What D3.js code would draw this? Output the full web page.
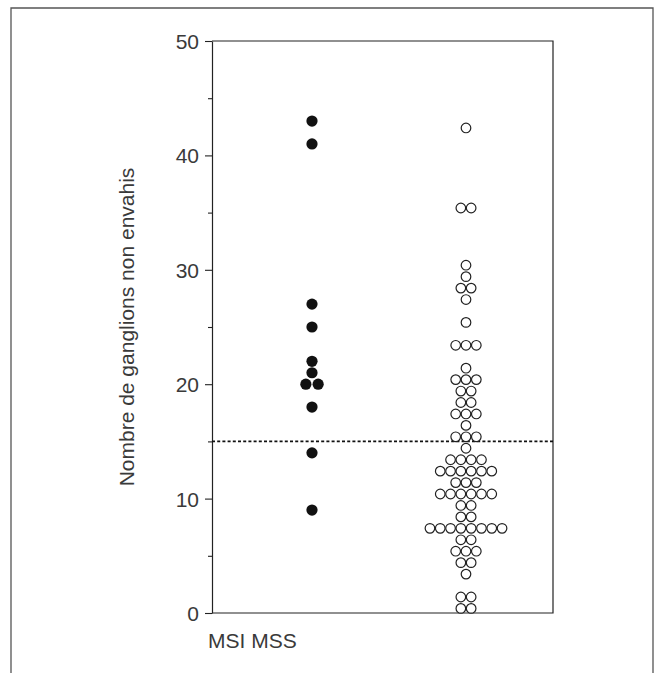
<!DOCTYPE html>
<html>
<head>
<meta charset="utf-8">
<script src="https://cdn.jsdelivr.net/npm/d3@7"></script>
<style>
  html, body { margin: 0; padding: 0; background: #fff; }
  svg { display: block; font-family: "Liberation Sans", Arial, sans-serif; }
</style>
</head>
<body>
<svg id="chart" width="657" height="673"></svg>
<script>
// ---- data ----
const categories = ["MSI", "MSS"];
const msiValues = [43, 41, 27, 25, 22, 21, 20, 20, 18, 14, 9];
const mssValues = [
  42.4,
  35.4, 35.4,
  30.4,
  29.4,
  28.4, 28.4,
  27.4,
  25.4,
  23.4, 23.4, 23.4,
  21.4,
  20.4, 20.4, 20.4,
  19.4, 19.4,
  18.4, 18.4,
  17.4, 17.4, 17.4,
  16.4,
  15.4, 15.4, 15.4,
  14.4,
  13.4, 13.4, 13.4, 13.4,
  12.4, 12.4, 12.4, 12.4, 12.4, 12.4,
  11.4, 11.4, 11.4,
  10.4, 10.4, 10.4, 10.4, 10.4, 10.4,
  9.4, 9.4,
  8.4, 8.4,
  7.4, 7.4, 7.4, 7.4, 7.4, 7.4, 7.4, 7.4,
  6.4, 6.4,
  5.4, 5.4, 5.4,
  4.4, 4.4,
  3.4,
  1.4, 1.4,
  0.4, 0.4
];
const yTicks = [0, 10, 20, 30, 40, 50];
const yMinorTicks = [5, 15, 25, 35, 45];
const threshold = 15;
const yTitle = "Nombre de ganglions non envahis";
const xLabel = "MSI MSS";

// ---- layout ----
const svg = d3.select("#chart");
const plot = { left: 212, right: 553, top: 41, bottom: 613 };
const textColor = "#3a3a3a";
const fontFam = "Liberation Sans, Arial, sans-serif";

const y = d3.scaleLinear().domain([0, 50]).range([plot.bottom, plot.top]);
const x = d3.scalePoint().domain(categories).range([312, 466]);

// outer frame (open at bottom)
svg.append("path")
  .attr("d", `M11,673 L11,8 L653,8 L653,673`)
  .attr("fill", "none").attr("stroke", "#555").attr("stroke-width", 1.3);

// plot frame top/right/bottom
svg.append("path")
  .attr("d", `M${plot.left},${plot.top} H${plot.right} V${plot.bottom} H${plot.left}`)
  .attr("fill", "none").attr("stroke", "#222").attr("stroke-width", 1.2);

// y axis major
const yAxis = d3.axisLeft(y).tickValues(yTicks).tickSize(7).tickPadding(6).tickSizeOuter(0);
const gy = svg.append("g").attr("transform", `translate(${plot.left},0)`).call(yAxis);
gy.attr("font-size", null).attr("font-family", null);
gy.select(".domain").attr("stroke", "#222").attr("stroke-width", 1.2);
gy.selectAll(".tick line").attr("stroke", "#222").attr("stroke-width", 1.1);
gy.selectAll(".tick text")
  .style("font-size", "21px").style("font-family", fontFam)
  .attr("fill", textColor).attr("dy", "0.36em");

// minor ticks
const yAxisMinor = d3.axisLeft(y).tickValues(yMinorTicks).tickSize(4).tickFormat("").tickSizeOuter(0);
const gm = svg.append("g").attr("transform", `translate(${plot.left},0)`).call(yAxisMinor);
gm.select(".domain").remove();
gm.selectAll(".tick line").attr("stroke", "#222").attr("stroke-width", 1.1);

// y title
svg.append("text")
  .attr("transform", `translate(134,${(plot.top + plot.bottom) / 2}) rotate(-90)`)
  .attr("text-anchor", "middle")
  .style("font-size", "21px").style("font-family", fontFam).attr("fill", textColor)
  .text(yTitle);

// x label
svg.append("text")
  .attr("x", 208).attr("y", 648)
  .style("font-size", "21px").style("font-family", fontFam).attr("fill", textColor)
  .text(xLabel);

// threshold line
svg.append("line")
  .attr("x1", plot.left).attr("x2", plot.right)
  .attr("y1", y(threshold)).attr("y2", y(threshold))
  .attr("stroke", "#111").attr("stroke-width", 1.6)
  .attr("stroke-dasharray", "3,2.2");

// helper: arrange points in rows by value
function layout(values, cat, spacing) {
  const groups = d3.group(values, v => v);
  const pts = [];
  for (const [v, arr] of groups) {
    const n = arr.length;
    arr.forEach((_, i) => {
      pts.push({ v, cx: x(cat) + (i - (n - 1) / 2) * spacing });
    });
  }
  return pts;
}

// MSI filled dots
svg.append("g").selectAll("circle")
  .data(layout(msiValues, "MSI", 12.3))
  .join("circle")
  .attr("cx", d => d.cx).attr("cy", d => y(d.v))
  .attr("r", 5.6).attr("fill", "#111");

// MSS open circles
svg.append("g").selectAll("circle")
  .data(layout(mssValues, "MSS", 10.3))
  .join("circle")
  .attr("cx", d => d.cx).attr("cy", d => y(d.v))
  .attr("r", 4.8).attr("fill", "#fff")
  .attr("stroke", "#222").attr("stroke-width", 1.2);
</script>
</body>
</html>
